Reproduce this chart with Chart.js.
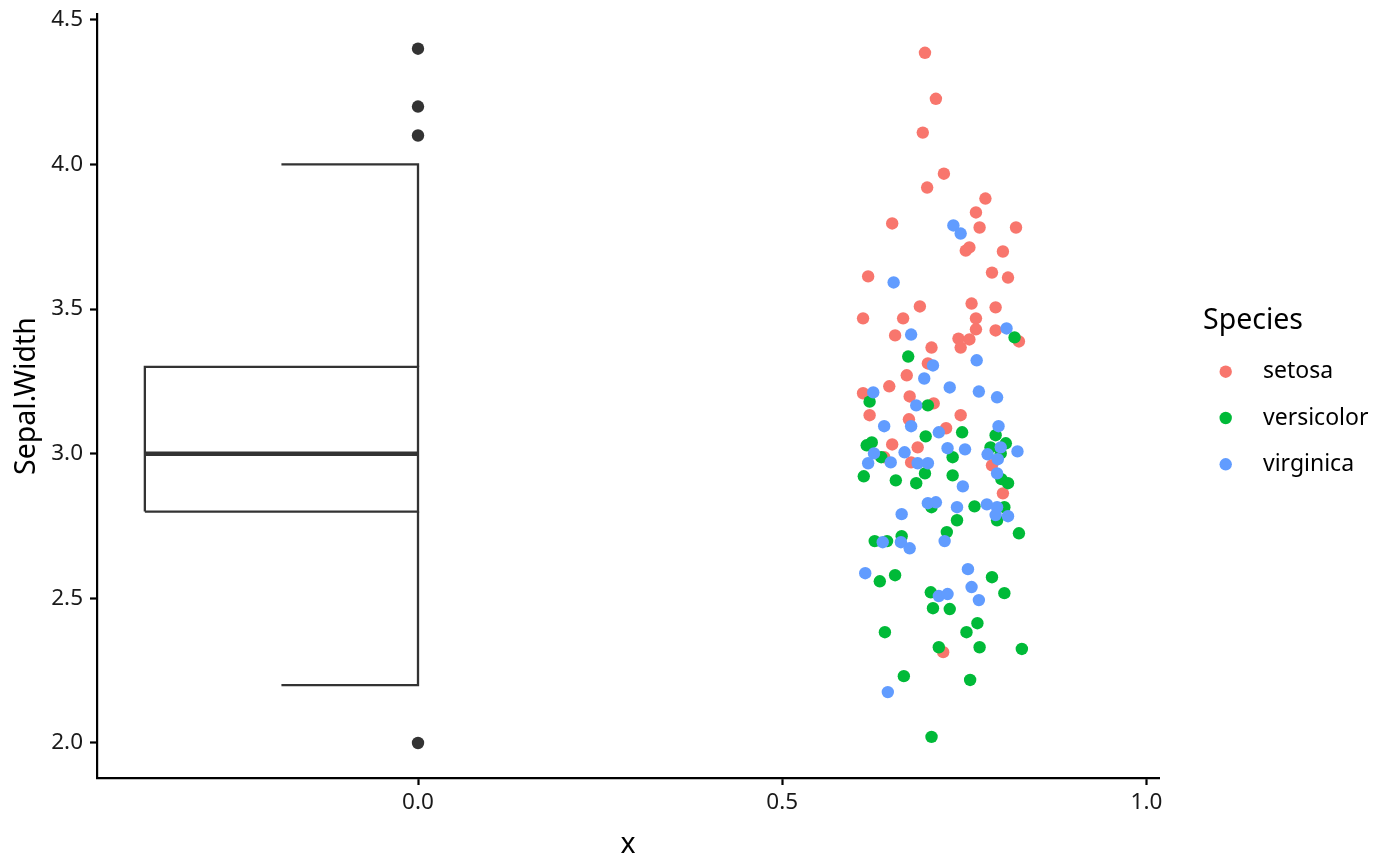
<!DOCTYPE html>
<html>
<head>
<meta charset="utf-8">
<script src="https://cdn.jsdelivr.net/npm/chart.js@4/dist/chart.umd.min.js"></script>
<style>
  html, body { margin: 0; padding: 0; background: #fff; }
  #wrap { width: 1400px; height: 866px; }
</style>
</head>
<body>
<div id="wrap"><canvas id="chart"></canvas></div>
<script>
// jittered points
const setosaX = [0.696,0.711,0.693,0.722,0.699,0.779,0.766,0.651,0.771,0.821,0.757,0.752,0.803,0.788,0.810,0.618,0.611,0.689,0.666,0.655,0.760,0.793,0.766,0.766,0.793,0.742,0.757,0.745,0.825,0.705,0.700,0.671,0.647,0.611,0.675,0.708,0.620,0.674,0.745,0.725,0.651,0.686,0.640,0.677,0.788,0.803,0.721];
const setosaY = [4.386,4.227,4.110,3.968,3.920,3.882,3.834,3.796,3.782,3.782,3.713,3.702,3.699,3.626,3.609,3.613,3.468,3.509,3.468,3.409,3.519,3.506,3.468,3.430,3.426,3.398,3.395,3.367,3.388,3.367,3.312,3.271,3.233,3.209,3.198,3.174,3.133,3.119,3.133,3.088,3.032,3.022,2.988,2.970,2.960,2.863,2.314];

const versicolorX = [0.819,0.673,0.620,0.700,0.697,0.747,0.793,0.807,0.616,0.623,0.786,0.636,0.734,0.800,0.612,0.656,0.684,0.696,0.734,0.801,0.810,0.764,0.805,0.705,0.795,0.740,0.825,0.726,0.627,0.644,0.664,0.634,0.655,0.788,0.805,0.704,0.707,0.730,0.641,0.753,0.768,0.715,0.771,0.829,0.667,0.758,0.705];
const versicolorY = [3.402,3.336,3.180,3.167,3.060,3.074,3.064,3.036,3.029,3.039,3.022,2.988,2.988,3.001,2.922,2.908,2.898,2.932,2.925,2.912,2.898,2.818,2.815,2.815,2.770,2.770,2.725,2.729,2.698,2.698,2.715,2.559,2.580,2.573,2.518,2.521,2.466,2.463,2.383,2.383,2.414,2.331,2.331,2.325,2.231,2.218,2.021];

const virginicaX = [0.735,0.745,0.653,0.677,0.808,0.767,0.707,0.695,0.730,0.770,0.625,0.795,0.684,0.640,0.677,0.715,0.797,0.727,0.751,0.800,0.823,0.626,0.668,0.782,0.618,0.649,0.686,0.700,0.796,0.795,0.748,0.700,0.711,0.740,0.781,0.795,0.664,0.793,0.810,0.638,0.663,0.675,0.723,0.614,0.755,0.760,0.770,0.715,0.727,0.645];
const virginicaY = [3.789,3.761,3.592,3.412,3.433,3.323,3.305,3.260,3.229,3.215,3.212,3.195,3.167,3.095,3.095,3.074,3.095,3.019,3.015,3.022,3.008,3.001,3.005,2.998,2.967,2.970,2.967,2.967,2.981,2.932,2.887,2.829,2.832,2.815,2.825,2.815,2.791,2.788,2.784,2.694,2.694,2.673,2.698,2.587,2.601,2.539,2.494,2.508,2.515,2.176];

// half boxplot at x = 0: [lower whisker, q1, median, q3, upper whisker]
const boxStats = [2.2, 2.8, 3.0, 3.3, 4.0];
const boxX = [-0.375, -0.1875, 0];   // box left, whisker cap left, box right
const outliers = [2.0, 4.1, 4.2, 4.4];

const species = ['setosa', 'versicolor', 'virginica'];
const speciesColors = ['#F8766D', '#00BA38', '#619CFF'];

const xTicks = [0, 0.5, 1.0];
const yTicks = [2.0, 2.5, 3.0, 3.5, 4.0, 4.5];

const FONT = '"Noto Sans", "Open Sans", sans-serif';
const BOX = '#333333';

function pts(xs, ys) {
	return xs.map((x, i) => ({ x: x, y: ys[i] }));
}

function boxLine(data, width) {
	return {
		type: 'line', data: data, showLine: true, fill: false,
		borderColor: BOX, borderWidth: width, pointRadius: 0,
		borderJoinStyle: 'miter', borderCapStyle: 'butt', order: 10
	};
}

const [lo, q1, med, q3, hi] = boxStats;
const [left, capLeft, right] = boxX;

const datasets = [
	boxLine([{x: left, y: q1}, {x: right, y: q1}, {x: right, y: q3}, {x: left, y: q3}, {x: left, y: q1}], 2.3),
	boxLine([{x: left, y: med}, {x: right, y: med}], 4.6),
	boxLine([{x: capLeft, y: hi}, {x: right, y: hi}, {x: right, y: q3}], 2.3),
	boxLine([{x: capLeft, y: lo}, {x: right, y: lo}, {x: right, y: q1}], 2.3),
	{
		label: 'outliers', data: outliers.map(v => ({x: right, y: v})),
		backgroundColor: BOX, borderWidth: 0, pointRadius: 6.2, order: 9
	}
];

const seriesX = [setosaX, versicolorX, virginicaX];
const seriesY = [setosaY, versicolorY, virginicaY];
species.forEach((name, i) => {
	datasets.push({
		label: name,
		data: pts(seriesX[i], seriesY[i]),
		backgroundColor: speciesColors[i],
		borderWidth: 0,
		pointRadius: 6.2,
		order: 3 - i
	});
});

const speciesLegend = {
	id: 'speciesLegend',
	afterDraw(chart) {
		const ctx = chart.ctx;
		ctx.save();
		ctx.textAlign = 'left';
		ctx.textBaseline = 'middle';
		ctx.fillStyle = '#000';
		ctx.font = '28.5px ' + FONT;
		ctx.fillText('Species', 1203, 321);
		ctx.font = '23px ' + FONT;
		species.forEach((name, i) => {
			const y = 371.7 + i * 46.3;
			ctx.beginPath();
			ctx.arc(1225.7, y, 6.2, 0, Math.PI * 2);
			ctx.fillStyle = speciesColors[i];
			ctx.fill();
			ctx.fillStyle = '#000';
			ctx.fillText(name, 1263, y);
		});
		ctx.restore();
	}
};

function axisCommon(ticksArr) {
	return {
		type: 'linear',
		afterBuildTicks: scale => { scale.ticks = ticksArr.map(v => ({ value: v })); },
		ticks: {
			callback: v => Number(v).toFixed(1),
			font: { family: FONT, size: 22.5 },
			color: '#1a1a1a'
		},
		grid: {
			display: true, drawOnChartArea: false, drawTicks: true,
			tickLength: 7, tickWidth: 2.2, tickColor: '#000'
		},
		border: { display: true, color: '#000', width: 2.2 }
	};
}

const xAxis = axisCommon(xTicks);
xAxis.min = -0.4407;
xAxis.max = 1.0173;
xAxis.ticks.padding = 4;
xAxis.title = { display: true, text: 'x', color: '#000', font: { family: FONT, size: 28.5 }, padding: { top: 0, bottom: 4 } };
xAxis.afterFit = scale => {
	scale.height = 88;
	scale.paddingLeft = 0;
	scale.paddingRight = 0;
};

const yAxis = axisCommon(yTicks);
yAxis.min = 1.879;
yAxis.max = 4.52;
yAxis.ticks.padding = 7;
yAxis.title = { display: true, text: 'Sepal.Width', color: '#000', font: { family: FONT, size: 28.5 }, padding: { top: 10, bottom: 0 } };
yAxis.afterFit = scale => {
	scale.width = 97;
	scale.paddingTop = 0;
	scale.paddingBottom = 0;
};

new Chart(document.getElementById('chart'), {
	type: 'scatter',
	data: { datasets: datasets },
	options: {
		responsive: true,
		maintainAspectRatio: false,
		animation: false,
		layout: { padding: { top: 14, right: 241, bottom: 0, left: 0 } },
		plugins: {
			legend: { display: false },
			tooltip: { enabled: false }
		},
		scales: { x: xAxis, y: yAxis }
	},
	plugins: [speciesLegend]
});
</script>
</body>
</html>
